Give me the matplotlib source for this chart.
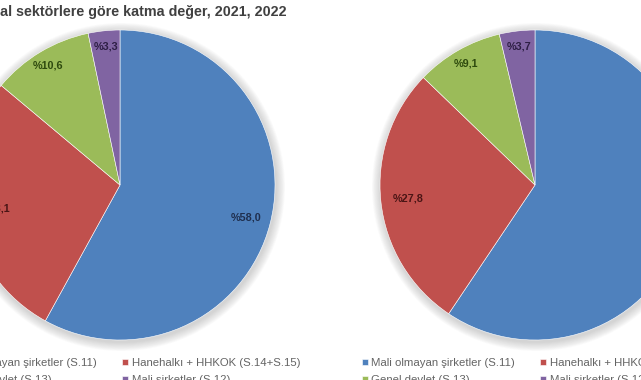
import numpy as np
import matplotlib
matplotlib.use("Agg")
import matplotlib.pyplot as plt
from matplotlib.patches import Circle

# data
sectors = ["Mali olmayan şirketler (S.11)", "Hanehalkı + HHKOK (S.14+S.15)",
           "Genel devlet (S.13)", "Mali şirketler (S.12)"]
share_2021 = [58.0, 28.1, 10.6, 3.3]
share_2022 = [59.4, 27.8, 9.1, 3.7]

colors = ["#4F81BD", "#C0504D", "#9BBB59", "#8064A2"]
label_colors = ["#1F2F4F", "#4A1515", "#2E4A0E", "#2E1F45"]
label_dist = [0.84, 0.82, 0.90, 0.90]

title = "Kurumsal sektörlere göre katma değer, 2021, 2022"

W, H = 641, 380
plt.rcParams['font.family'] = ['Liberation Sans', 'DejaVu Sans']

fig = plt.figure(figsize=(W / 100, H / 100), dpi=100)
ax = fig.add_axes([0, 0, 1, 1])

R = 155
centers = [(120, H - 185), (535, H - 185)]


def draw_pie(vals, center):
    # soft shadow like the excel original
    for k in range(10, 0, -1):
        ax.add_patch(Circle((center[0] + 1, center[1] - 2), R + k * 0.9,
                            color="#808080", alpha=0.035, lw=0, zorder=0))
    wedges, _ = ax.pie(vals, colors=colors, startangle=90, counterclock=False,
                       center=center, radius=R, labels=None,
                       wedgeprops=dict(linewidth=0.4, edgecolor="#ffffff"))
    for w, v, d, c in zip(wedges, vals, label_dist, label_colors):
        ang = np.deg2rad((w.theta1 + w.theta2) / 2)
        x = center[0] + d * R * np.cos(ang)
        y = center[1] + d * R * np.sin(ang)
        ax.text(x, y, "%" + f"{v:.1f}".replace(".", ","), ha="center",
                va="center", fontsize=7.8, fontweight="bold", color=c,
                zorder=5)
    return wedges


w1 = draw_pie(share_2021, centers[0])
w2 = draw_pie(share_2022, centers[1])

ax.set_xlim(0, W)
ax.set_ylim(0, H)
ax.set_aspect("auto")
ax.axis("off")

ax.text(287, H - 12, title, ha="right", va="center", fontsize=10.3,
        fontweight="bold", color="#404040")

order = [0, 2, 1, 3]
for wedges, x0 in [(w1, -56), (w2, 362)]:
    leg = fig.legend([wedges[i] for i in order], [sectors[i] for i in order],
                     ncol=2, loc="upper left",
                     bbox_to_anchor=(x0 / W, 1 - 358 / H), frameon=False,
                     fontsize=8.2, handlelength=0.5, handleheight=0.5,
                     handletextpad=0.3, columnspacing=2.25, labelspacing=0.6,
                     borderpad=0, borderaxespad=0)
    for t in leg.get_texts():
        t.set_color("#646464")

fig.savefig("out.png", dpi=100, facecolor="white")
